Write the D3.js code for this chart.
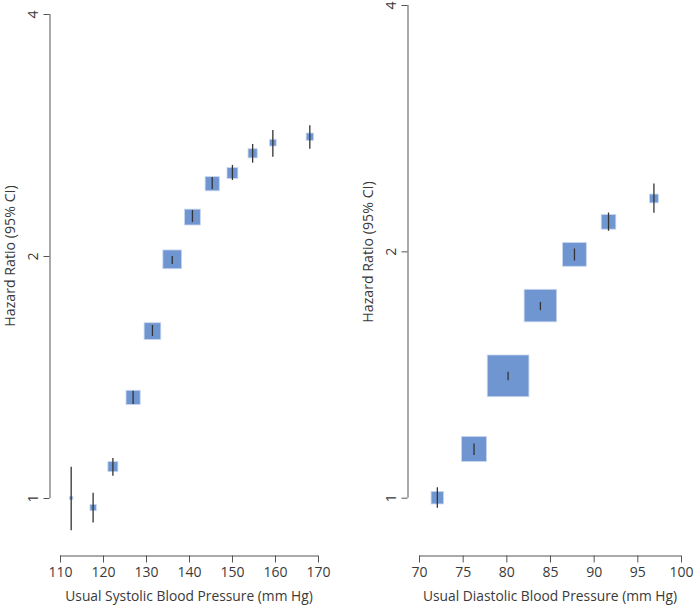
<!DOCTYPE html>
<html><head><meta charset="utf-8">
<script src="https://cdn.jsdelivr.net/npm/d3@7"></script>
<style>
body{margin:0;background:#fff;}
svg text{font-family:"Open Sans","Noto Sans",sans-serif;fill:#3a3a3a;}
</style></head>
<body><svg id="c" width="694" height="605"></svg>
<script>
// Systolic panel data
const sbp = [112.6, 117.7, 122.3, 127.0, 131.5, 136.1, 140.8, 145.4, 150.1, 154.8, 159.5, 168.1];
const sbpHR = [1.00, 0.973, 1.094, 1.334, 1.613, 1.981, 2.236, 2.460, 2.537, 2.684, 2.767, 2.815];
const sbpLo = [0.912, 0.932, 1.066, 1.309, 1.590, 1.955, 2.204, 2.423, 2.487, 2.613, 2.658, 2.720];
const sbpHi = [1.094, 1.015, 1.121, 1.360, 1.641, 2.000, 2.282, 2.508, 2.596, 2.757, 2.870, 2.908];
const sbpWeight = [0.08, 0.15, 0.24, 0.34, 0.40, 0.45, 0.38, 0.34, 0.26, 0.22, 0.16, 0.175];
const sbpTicks = [110, 120, 130, 140, 150, 160, 170];

// Diastolic panel data
const dbp = [72.1, 76.3, 80.2, 83.9, 87.8, 91.7, 96.9];
const dbpHR = [1.00, 1.147, 1.409, 1.717, 1.983, 2.173, 2.321];
const dbpLo = [0.972, 1.128, 1.392, 1.695, 1.949, 2.119, 2.229];
const dbpHi = [1.030, 1.165, 1.425, 1.735, 2.016, 2.231, 2.421];
const dbpWeight = [0.30, 0.60, 1.00, 0.78, 0.57, 0.35, 0.21];
const dbpTicks = [70, 75, 80, 85, 90, 95, 100];

const hrTicks = [1, 2, 4];
const yTitle = "Hazard Ratio (95% CI)";

const svg = d3.select("#c");
const sizeScale = d3.scaleLinear().domain([0, 1]).range([0, 41.7]);

function panel(o) {
  const g = svg.append("g");
  const x = d3.scaleLinear().domain([o.ticks[0], o.ticks[o.ticks.length-1]]).range(o.xr);
  const y = d3.scaleLog().base(2).domain([1, 4]).range(o.yr);
  // x axis
  const xa = g.append("g").attr("transform", `translate(0,${o.xAxisY})`)
    .call(d3.axisBottom(x).tickValues(o.ticks).tickSize(7).tickPadding(4).tickFormat(d3.format("d")));
  xa.select(".domain").attr("stroke", "#555").attr("d", `M${o.xr[0]},0.5H${o.xr[1]}`);
  xa.selectAll(".tick line").attr("stroke", "#555");
  xa.selectAll(".tick text").attr("font-size", 14).attr("dy", "0.72em");
  // y axis
  const ya = g.append("g").attr("transform", `translate(${o.yAxisX},0)`)
    .call(d3.axisLeft(y).tickValues(hrTicks).tickSize(6).tickFormat(d3.format("d")));
  ya.select(".domain").attr("stroke", "#555").attr("d", `M0.5,${o.yr[0]}V${o.yr[1]}`);
  ya.selectAll(".tick line").attr("stroke", "#555");
  ya.selectAll(".tick text").attr("font-size", 14)
    .attr("transform", "rotate(-90)").attr("x", 0).attr("y", -12).attr("dy", 0)
    .attr("text-anchor", "middle");
  // titles
  g.append("text").attr("x", (o.xr[0]+o.xr[1])/2).attr("y", 601)
    .attr("text-anchor", "middle").attr("font-size", 13.8).text(o.xTitle);
  g.append("text").attr("transform", `translate(${o.yTitleX},${o.yTitleY}) rotate(-90)`)
    .attr("text-anchor", "middle").attr("font-size", 14.2).text(yTitle);
  // boxes
  const pts = o.xs.map((v, i) => ({x: v, hr: o.hr[i], lo: o.lo[i], hi: o.hi[i], w: o.w[i]}));
  g.selectAll("rect.box").data(pts).enter().append("rect").attr("class", "box")
    .attr("x", d => x(d.x) - sizeScale(d.w)/2)
    .attr("y", d => y(d.hr) - sizeScale(d.w)/2)
    .attr("width", d => sizeScale(d.w))
    .attr("height", d => sizeScale(d.w))
    .attr("fill", "#7096d2").attr("stroke", "#c9d7f0").attr("stroke-width", 0.8);
  g.selectAll("line.ci").data(pts).enter().append("line").attr("class", "ci")
    .attr("x1", d => x(d.x)).attr("x2", d => x(d.x))
    .attr("y1", d => y(d.lo)).attr("y2", d => y(d.hi))
    .attr("stroke", "#333").attr("stroke-width", 1.3);
}

panel({xs: sbp, hr: sbpHR, lo: sbpLo, hi: sbpHi, w: sbpWeight, ticks: sbpTicks,
  xr: [60, 318], yr: [498, 14], xAxisY: 555.5, yAxisX: 49.5,
  xTitle: "Usual Systolic Blood Pressure (mm Hg)", yTitleX: 15, yTitleY: 256});
panel({xs: dbp, hr: dbpHR, lo: dbpLo, hi: dbpHi, w: dbpWeight, ticks: dbpTicks,
  xr: [419, 681], yr: [497.7, 5], xAxisY: 555.5, yAxisX: 407.5,
  xTitle: "Usual Diastolic Blood Pressure (mm Hg)", yTitleX: 373, yTitleY: 252});
</script></body></html>
